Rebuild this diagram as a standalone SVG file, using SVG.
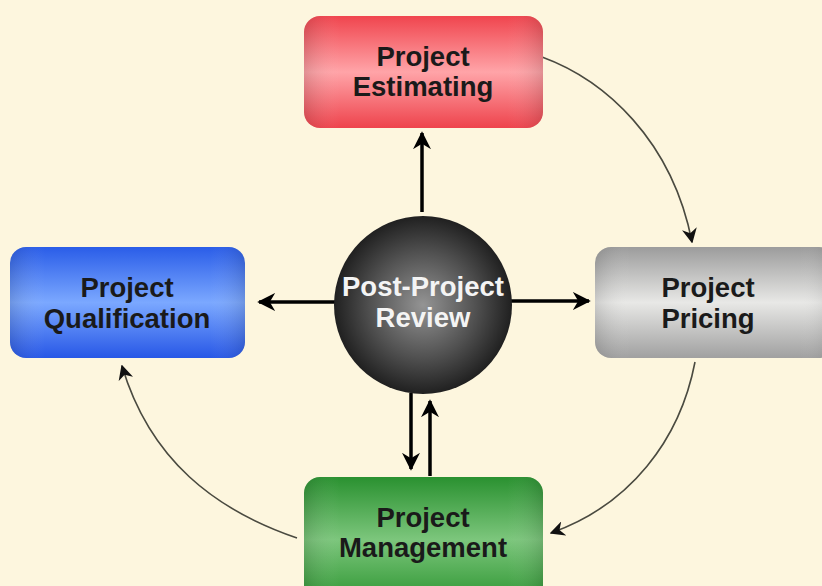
<svg xmlns="http://www.w3.org/2000/svg" width="822" height="586" viewBox="0 0 822 586">
<defs>
<style>
.lbl{font-family:"Liberation Sans",Arial,sans-serif;font-weight:bold;font-size:27.5px;text-anchor:middle;fill:#1a1a1a}
.lblw{font-family:"Liberation Sans",Arial,sans-serif;font-weight:bold;font-size:27.5px;text-anchor:middle;fill:#f4f4f4}
.thick{stroke:#000;stroke-width:3.5;fill:none;marker-end:url(#big)}
.thin{stroke:#4a4a40;stroke-width:1.6;fill:none;marker-end:url(#small)}
</style>
<linearGradient id="gRed" x1="0" y1="0" x2="0" y2="1">
<stop offset="0" stop-color="#F0454E"/><stop offset="0.5" stop-color="#FFA4A8"/><stop offset="1" stop-color="#EE434C"/>
</linearGradient>
<linearGradient id="gBlue" x1="0" y1="0" x2="0" y2="1">
<stop offset="0" stop-color="#2A5DE8"/><stop offset="0.5" stop-color="#7BA8FF"/><stop offset="1" stop-color="#2757E6"/>
</linearGradient>
<linearGradient id="gGray" x1="0" y1="0" x2="0" y2="1">
<stop offset="0" stop-color="#9C9C9C"/><stop offset="0.5" stop-color="#E8E8E6"/><stop offset="1" stop-color="#A0A0A0"/>
</linearGradient>
<linearGradient id="gGreen" x1="0" y1="0" x2="0" y2="1">
<stop offset="0" stop-color="#2A9130"/><stop offset="0.5" stop-color="#7CC67C"/><stop offset="1" stop-color="#2E9632"/>
</linearGradient>
<linearGradient id="gSide" x1="0" y1="0" x2="1" y2="0">
<stop offset="0" stop-color="#000" stop-opacity="0.12"/><stop offset="0.15" stop-color="#fff" stop-opacity="0"/><stop offset="0.85" stop-color="#fff" stop-opacity="0"/><stop offset="1" stop-color="#000" stop-opacity="0.12"/>
</linearGradient>
<radialGradient id="gBall" cx="0.5" cy="0.5" r="0.5">
<stop offset="0" stop-color="#949494"/><stop offset="0.6" stop-color="#505050"/><stop offset="1" stop-color="#202020"/>
</radialGradient>
<marker id="big" viewBox="0 0 10 10" refX="9" refY="5" markerWidth="18" markerHeight="18" markerUnits="userSpaceOnUse" orient="auto">
<path d="M0,0 L10,5 L0,10 L3,5 z" fill="#000"/>
</marker>
<marker id="small" viewBox="0 0 10 10" refX="9" refY="5" markerWidth="15" markerHeight="15" markerUnits="userSpaceOnUse" orient="auto">
<path d="M0,0 L10,5 L0,10 L3,5 z" fill="#111"/>
</marker>
</defs>
<rect width="822" height="586" fill="#FDF6DE"/>
<g id="connectors">
<line class="thick" x1="422" y1="212" x2="422" y2="133"/>
<line class="thick" x1="336" y1="302" x2="259" y2="302"/>
<line class="thick" x1="511" y1="301" x2="589" y2="301"/>
<line class="thick" x1="411" y1="393" x2="411" y2="469"/>
<line class="thick" x1="430" y1="476" x2="430" y2="401"/>
<path class="thin" d="M542 57 C605 80 672 140 692 242"/>
<path class="thin" d="M695 362 C680 440 630 505 551 533"/>
<path class="thin" d="M297 538 C215 510 150 460 122 366"/>
</g>
<g id="estimating">
<rect x="304" y="16" width="239" height="112" rx="16" fill="url(#gRed)"/>
<rect x="304" y="16" width="239" height="112" rx="16" fill="url(#gSide)"/>
<text class="lbl" x="423" y="66">Project</text>
<text class="lbl" x="423" y="96">Estimating</text>
</g>
<g id="qualification">
<rect x="10" y="247" width="235" height="111" rx="16" fill="url(#gBlue)"/>
<rect x="10" y="247" width="235" height="111" rx="16" fill="url(#gSide)"/>
<text class="lbl" x="127" y="297">Project</text>
<text class="lbl" x="127" y="328">Qualification</text>
</g>
<g id="pricing">
<rect x="595" y="247" width="240" height="111" rx="16" fill="url(#gGray)"/>
<rect x="595" y="247" width="240" height="111" rx="16" fill="url(#gSide)"/>
<text class="lbl" x="708" y="297">Project</text>
<text class="lbl" x="708" y="328">Pricing</text>
</g>
<g id="management">
<rect x="304" y="477" width="239" height="125" rx="16" fill="url(#gGreen)"/>
<rect x="304" y="477" width="239" height="125" rx="16" fill="url(#gSide)"/>
<text class="lbl" x="423" y="527">Project</text>
<text class="lbl" x="423" y="557">Management</text>
</g>
<g id="review">
<circle cx="423" cy="305" r="89" fill="url(#gBall)"/>
<text class="lblw" x="423" y="296">Post-Project</text>
<text class="lblw" x="423" y="327">Review</text>
</g>
</svg>
